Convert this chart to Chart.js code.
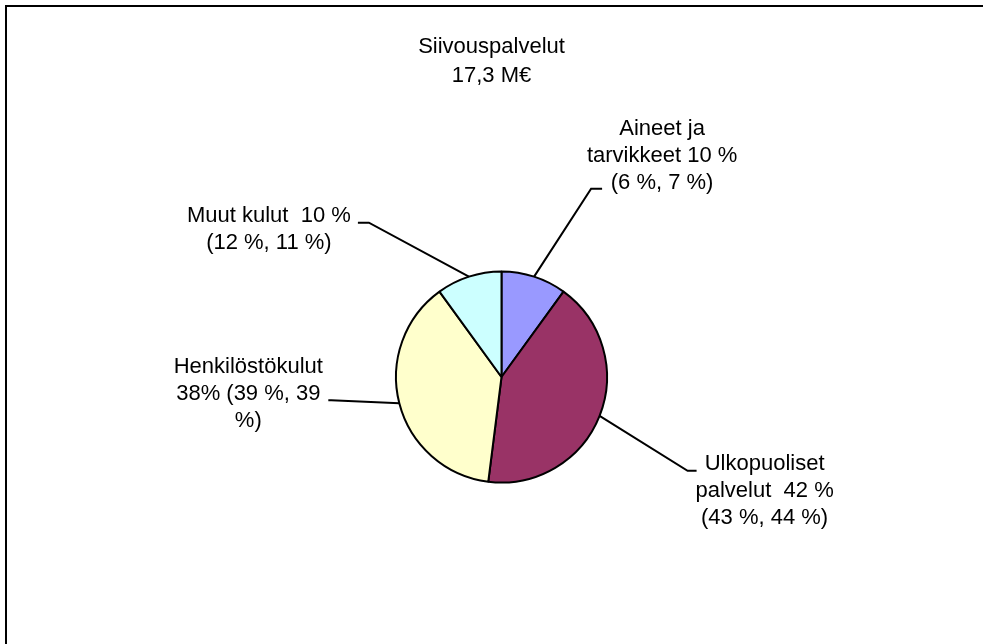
<!DOCTYPE html>
<html>
<head>
<meta charset="utf-8">
<script src="https://cdn.jsdelivr.net/npm/chart.js@4/dist/chart.umd.min.js"></script>
<style>
    html, body { margin: 0; padding: 0; background: #fff; }
    #wrap { position: relative; width: 983px; height: 644px; }
</style>
</head>
<body>
<div id="wrap"><canvas id="costChart"></canvas></div>
<script>
// Siivouspalvelut - kustannusrakenne
const titleLines = ['Siivouspalvelut', '17,3 M€'];
const categories = ['Aineet ja tarvikkeet', 'Ulkopuoliset palvelut', 'Henkilöstökulut', 'Muut kulut'];
const shares = [10, 42, 38, 10];
const sliceColors = ['#9999FF', '#993366', '#FFFFCC', '#CCFFFF'];
const labelLines = [
    ['Aineet ja', 'tarvikkeet 10 %', '(6 %, 7 %)'],
    ['Ulkopuoliset', 'palvelut  42 %', '(43 %, 44 %)'],
    ['Henkilöstökulut', '38% (39 %, 39', '%)'],
    ['Muut kulut  10 %', '(12 %, 11 %)']
];

const FONT = '22px "Liberation Sans", Arial, sans-serif';

// leader line: elbow offset from the slice edge, short tick, text block offset from tick end
const leaderLayout = [
    { elbow: [57, -88], tick: 11, text: [60, -60] },
    { elbow: [88, 55], tick: 9, text: [68, -7] },
    { elbow: [-68, -3], tick: -3, text: [-80, -33] },
    { elbow: [-100, -54], tick: -11, text: [-89, -7] }
];

const framePlugin = {
    id: 'frame',
    beforeDraw(chart) {
        const ctx = chart.ctx;
        ctx.save();
        ctx.fillStyle = '#fff';
        ctx.fillRect(0, 0, chart.width, chart.height);
        ctx.strokeStyle = '#000';
        ctx.lineWidth = 2;
        ctx.beginPath();
        ctx.moveTo(6, chart.height + 5);
        ctx.lineTo(6, 6);
        ctx.lineTo(chart.width + 5, 6);
        ctx.stroke();
        // title
        ctx.fillStyle = '#000';
        ctx.font = FONT;
        ctx.textAlign = 'center';
        ctx.textBaseline = 'middle';
        titleLines.forEach((line, k) => ctx.fillText(line, chart.width / 2, 47 + k * 29));
        ctx.restore();
    }
};

const leaderPlugin = {
    id: 'leaders',
    afterDatasetsDraw(chart) {
        const ctx = chart.ctx;
        const meta = chart.getDatasetMeta(0);
        meta.data.forEach((arc, i) => {
            const p = arc.getProps(['x', 'y', 'startAngle', 'endAngle', 'outerRadius'], true);
            const mid = (p.startAngle + p.endAngle) / 2;
            const ax = p.x + Math.cos(mid) * p.outerRadius;
            const ay = p.y + Math.sin(mid) * p.outerRadius;
            const lay = leaderLayout[i];
            const ex = ax + lay.elbow[0], ey = ay + lay.elbow[1];
            const tx = ex + lay.tick;
            ctx.save();
            ctx.strokeStyle = '#000';
            ctx.lineWidth = 2;
            ctx.beginPath();
            ctx.moveTo(ax, ay);
            ctx.lineTo(ex, ey);
            ctx.lineTo(tx, ey);
            ctx.stroke();
            ctx.fillStyle = '#000';
            ctx.font = FONT;
            ctx.textAlign = 'center';
            ctx.textBaseline = 'middle';
            labelLines[i].forEach((line, k) => {
                ctx.fillText(line, tx + lay.text[0], ey + lay.text[1] + k * 27);
            });
            ctx.restore();
        });
    }
};

new Chart(document.getElementById('costChart'), {
    type: 'pie',
    data: {
        labels: categories,
        datasets: [{
            data: shares,
            backgroundColor: sliceColors,
            borderColor: '#000',
            borderWidth: 2,
            hoverOffset: 0
        }]
    },
    options: {
        responsive: true,
        maintainAspectRatio: false,
        animation: false,
        events: [],
        layout: { padding: { left: 395, right: 375, top: 270, bottom: 160 } },
        plugins: {
            legend: { display: false },
            tooltip: { enabled: false },
            title: { display: false }
        }
    },
    plugins: [framePlugin, leaderPlugin]
});
</script>
</body>
</html>
